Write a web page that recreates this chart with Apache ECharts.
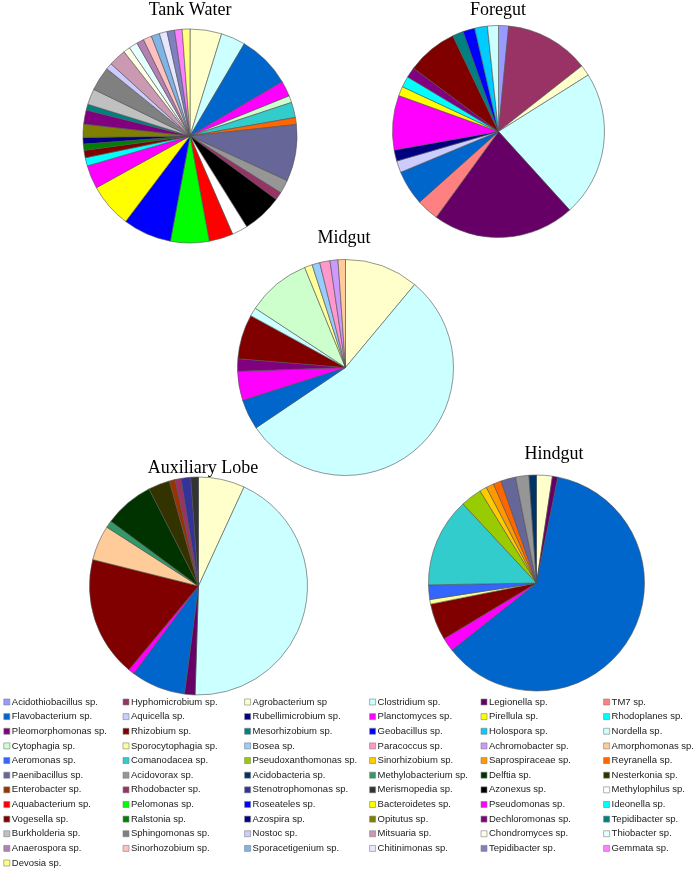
<!DOCTYPE html>
<html>
<head>
<meta charset="utf-8">
<script src="https://cdn.jsdelivr.net/npm/echarts@6/dist/echarts.min.js"></script>
<style>html,body{margin:0;padding:0;background:#fff;}#chart{width:697px;height:871px;}</style>
</head>
<body>
<div id="chart"></div>
<script>
// Legend species (row-major order, 6 per row) and their colours
const species = [
  'Acidothiobacillus sp.', 'Hyphomicrobium sp.', 'Agrobacterium sp', 'Clostridium sp.', 'Legionella sp.', 'TM7 sp.',
  'Flavobacterium sp.', 'Aquicella sp.', 'Rubellimicrobium sp.', 'Planctomyces sp.', 'Pirellula sp.', 'Rhodoplanes sp.',
  'Pleomorphomonas sp.', 'Rhizobium sp.', 'Mesorhizobium sp.', 'Geobacillus sp.', 'Holospora sp.', 'Nordella sp.',
  'Cytophagia sp.', 'Sporocytophagia sp.', 'Bosea sp.', 'Paracoccus sp.', 'Achromobacter sp.', 'Amorphomonas sp.',
  'Aeromonas sp.', 'Comanodacea sp.', 'Pseudoxanthomonas sp.', 'Sinorhizobium sp.', 'Saprospiraceae sp.', 'Reyranella sp.',
  'Paenibacillus sp.', 'Acidovorax sp.', 'Acidobacteria sp.', 'Methylobacterium sp.', 'Delftia sp.', 'Nesterkonia sp.',
  'Enterobacter sp.', 'Rhodobacter sp.', 'Stenotrophomonas sp.', 'Merismopedia sp.', 'Azonexus sp.', 'Methylophilus sp.',
  'Aquabacterium sp.', 'Pelomonas sp.', 'Roseateles sp.', 'Bacteroidetes sp.', 'Pseudomonas sp.', 'Ideonella sp.',
  'Vogesella sp.', 'Ralstonia sp.', 'Azospira sp.', 'Opitutus sp.', 'Dechloromonas sp.', 'Tepidibacter sp.',
  'Burkholderia sp.', 'Sphingomonas sp.', 'Nostoc sp.', 'Mitsuaria sp.', 'Chondromyces sp.', 'Thiobacter sp.',
  'Anaerospora sp.', 'Sinorhozobium sp.', 'Sporacetigenium sp.', 'Chitinimonas sp.', 'Tepidibacter sp. ', 'Gemmata sp.',
  'Devosia sp.'
];
const speciesColors = [
  '#9999FF', '#993366', '#FFFFCC', '#CCFFFF', '#660066', '#FF8080',
  '#0066CC', '#CCCCFF', '#000080', '#FF00FF', '#FFFF00', '#00FFFF',
  '#800080', '#800000', '#008080', '#0000FF', '#00CCFF', '#CCFFFF',
  '#CCFFCC', '#FFFF99', '#99CCFF', '#FF99CC', '#CC99FF', '#FFCC99',
  '#3366FF', '#33CCCC', '#99CC00', '#FFCC00', '#FF9900', '#FF6600',
  '#666699', '#969696', '#003366', '#339966', '#003300', '#333300',
  '#993300', '#993366', '#333399', '#333333', '#000000', '#FFFFFF',
  '#FF0000', '#00FF00', '#0000FF', '#FFFF00', '#FF00FF', '#00FFFF',
  '#800000', '#008000', '#000080', '#808000', '#800080', '#008080',
  '#C0C0C0', '#808080', '#CCCCFF', '#CC99B3', '#FFFFE6', '#E6FFFF',
  '#B380B3', '#FFC0C0', '#80B3E6', '#E6E6FF', '#8080C0', '#FF80FF',
  '#FFFF80'
];

// Tank Water
const tankWaterNames = ['Agrobacterium sp', 'Clostridium sp.', 'Flavobacterium sp.', 'Planctomyces sp.', 'Cytophagia sp.',
  'Comanodacea sp.', 'Reyranella sp.', 'Paenibacillus sp.', 'Acidovorax sp.', 'Rhodobacter sp.', 'Azonexus sp.',
  'Methylophilus sp.', 'Aquabacterium sp.', 'Pelomonas sp.', 'Roseateles sp.', 'Bacteroidetes sp.', 'Pseudomonas sp.',
  'Ideonella sp.', 'Vogesella sp.', 'Ralstonia sp.', 'Azospira sp.', 'Opitutus sp.', 'Dechloromonas sp.',
  'Tepidibacter sp.', 'Burkholderia sp.', 'Sphingomonas sp.', 'Nostoc sp.', 'Mitsuaria sp.', 'Chondromyces sp.',
  'Thiobacter sp.', 'Anaerospora sp.', 'Sinorhozobium sp.', 'Sporacetigenium sp.', 'Chitinimonas sp.',
  'Tepidibacter sp. ', 'Gemmata sp.', 'Devosia sp.'];
const tankWaterValues = [4.78, 3.69, 8.06, 2.36, 1.03, 2.31, 1.06, 8.58, 2.03, 1.22, 6.00, 2.36, 3.64, 5.83, 7.33,
  6.69, 3.53, 1.25, 1.11, 0.94, 1.00, 2.00, 2.11, 0.89, 2.39, 3.64, 0.97, 2.64, 1.00, 1.31, 1.11, 1.28, 1.25, 1.17,
  1.14, 1.14, 1.17];

// Foregut
const foregutNames = ['Acidothiobacillus sp.', 'Hyphomicrobium sp.', 'Agrobacterium sp', 'Clostridium sp.', 'Legionella sp.',
  'TM7 sp.', 'Flavobacterium sp.', 'Aquicella sp.', 'Rubellimicrobium sp.', 'Planctomyces sp.', 'Pirellula sp.',
  'Rhodoplanes sp.', 'Pleomorphomonas sp.', 'Rhizobium sp.', 'Mesorhizobium sp.', 'Geobacillus sp.', 'Holospora sp.',
  'Nordella sp.'];
const foregutValues = [1.53, 12.86, 1.67, 22.22, 21.72, 3.39, 5.33, 1.78, 1.69, 8.31, 1.44, 1.67, 1.58, 7.72, 1.67, 1.81,
  1.94, 1.67];

// Midgut
const midgutNames = ['Agrobacterium sp', 'Clostridium sp.', 'Flavobacterium sp.', 'Planctomyces sp.', 'Pleomorphomonas sp.',
  'Rhizobium sp.', 'Nordella sp.', 'Cytophagia sp.', 'Sporocytophagia sp.', 'Bosea sp.', 'Paracoccus sp.',
  'Achromobacter sp.', 'Amorphomonas sp.'];
const midgutValues = [11.06, 54.50, 4.53, 4.36, 1.86, 6.67, 1.28, 9.58, 1.17, 1.17, 1.53, 1.19, 1.11];

// Auxiliary Lobe
const auxNames = ['Agrobacterium sp', 'Clostridium sp.', 'Legionella sp.', 'Flavobacterium sp.', 'Planctomyces sp.',
  'Rhizobium sp.', 'Amorphomonas sp.', 'Methylobacterium sp.', 'Delftia sp.', 'Nesterkonia sp.', 'Enterobacter sp.',
  'Rhodobacter sp.', 'Stenotrophomonas sp.', 'Merismopedia sp.'];
const auxValues = [6.86, 43.64, 1.56, 8.08, 0.89, 17.86, 5.19, 1.06, 7.36, 3.19, 0.83, 0.92, 1.42, 1.14];

// Hindgut
const hindgutNames = ['Agrobacterium sp', 'Legionella sp.', 'Flavobacterium sp.', 'Planctomyces sp.', 'Rhizobium sp.',
  'Sporocytophagia sp.', 'Aeromonas sp.', 'Comanodacea sp.', 'Pseudoxanthomonas sp.', 'Sinorhizobium sp.',
  'Saprospiraceae sp.', 'Reyranella sp.', 'Paenibacillus sp.', 'Acidovorax sp.', 'Acidobacteria sp.'];
const hindgutValues = [2.36, 0.81, 61.17, 2.03, 5.50, 0.69, 2.17, 13.36, 3.17, 1.06, 1.17, 1.19, 2.22, 2.00, 1.11];

const pieTitles = ['Tank Water', 'Foregut', 'Midgut', 'Auxiliary Lobe', 'Hindgut'];

// ---- layout ----
const pies = [
  {names: tankWaterNames, values: tankWaterValues, center: [190, 136], r: 107, title: [190, 1]},
  {names: foregutNames, values: foregutValues, center: [498.5, 131.5], r: 106, title: [498, 1]},
  {names: midgutNames, values: midgutValues, center: [345.5, 367.5], r: 108, title: [344, 229]},
  {names: auxNames, values: auxValues, center: [198.5, 586], r: 109, title: [203, 459]},
  {names: hindgutNames, values: hindgutValues, center: [536.5, 583], r: 108, title: [554, 445]}
];
const colorOf = {};
species.forEach((s, i) => { colorOf[s] = speciesColors[i]; });

const series = pies.map((p, i) => ({
  type: 'pie',
  name: pieTitles[i],
  center: p.center,
  radius: p.r,
  startAngle: 90,
  clockwise: true,
  silent: true,
  animation: false,
  label: {show: false},
  labelLine: {show: false},
  emphasis: {disabled: true},
  itemStyle: {borderColor: '#505050', borderWidth: 0.6},
  data: p.names.map((n, k) => ({name: n, value: p.values[k], itemStyle: {color: colorOf[n]}}))
}));

const titles = pies.map((p, i) => ({
  text: pieTitles[i],
  left: p.title[0],
  top: p.title[1],
  textAlign: 'center',
  padding: 0,
  textStyle: {fontFamily: 'Liberation Serif', fontSize: 18, fontWeight: 'normal', color: '#000'}
}));

const colX = [3.5, 122.7, 244.3, 369.3, 480.7, 603.3];
const legends = colX.map((x, c) => ({
  orient: 'vertical',
  left: x,
  top: 696,
  padding: 0,
  itemWidth: 6,
  itemHeight: 6,
  itemGap: 2.64,
  icon: 'rect',
  selectedMode: false,
  data: species.filter((_, k) => k % 6 === c),
  formatter: n => n.trim(),
  itemStyle: {borderColor: '#808080', borderWidth: 0.6},
  textStyle: {fontFamily: 'Liberation Sans', fontSize: 9.5, color: '#1a1a1a', lineHeight: 12, padding: [0, 0, 0, -3]}
}));

const chart = echarts.init(document.getElementById('chart'), null, {renderer: 'canvas'});
chart.setOption({
  backgroundColor: '#fff',
  animation: false,
  title: titles,
  legend: legends,
  series: series
});
</script>
</body>
</html>
